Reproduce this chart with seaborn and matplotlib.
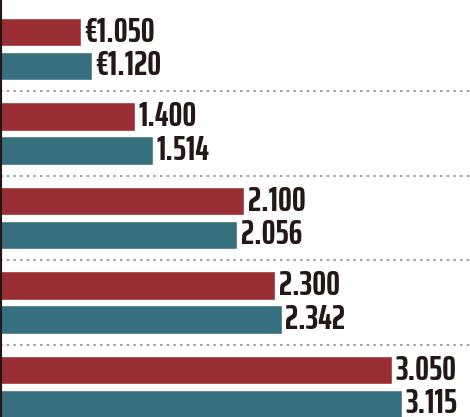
import pandas as pd
import seaborn as sns
import matplotlib.pyplot as plt

groups = ["G1", "G2", "G3", "G4", "G5"]
series = ["Serie A", "Serie B"]
values_a = [1050, 1400, 2100, 2300, 3050]
values_b = [1120, 1514, 2056, 2342, 3115]
prefix = ["€", "", "", "", ""]

red = "#992e35"
teal = "#36707e"

rows = []
for g, a, b in zip(groups, values_a, values_b):
    rows.append({"group": g, "serie": series[0], "value": a})
    rows.append({"group": g, "serie": series[1], "value": b})
df = pd.DataFrame(rows)

sns.set_style("white")
plt.rcParams["font.family"] = ["Saira ExtraCondensed", "DejaVu Sans"]

fig = plt.figure(figsize=(4.7, 4.17), dpi=100)
ax = fig.add_axes([0, 0, 1, 1])

sns.barplot(data=df, y="group", x="value", hue="serie", orient="h",
            palette=[red, teal], saturation=1, width=0.8, gap=0.16,
            legend=False, ax=ax)

for i in range(len(groups) - 1):
    ax.axhline(i + 0.5, color="#8f8f8f", lw=1.2, ls=(0, (1.5, 2.5)))


def fmt(v):
    return f"{v:,}".replace(",", ".")


for cont, vals in zip(ax.containers, [values_a, values_b]):
    for bar, v, p in zip(cont, vals, prefix):
        y = bar.get_y() + bar.get_height() / 2
        ax.annotate(p + fmt(v), (bar.get_width(), y), xytext=(2.5, 0),
                    textcoords="offset points", va="center", ha="left",
                    fontsize=25, fontweight="bold", color="#231815")

ax.set_xlim(529, 3551)
ax.set_ylim(4.355, -0.58)
ax.set_xticks([])
ax.set_yticks([])
ax.set_xlabel("")
ax.set_ylabel("")
for s in ["top", "right", "bottom"]:
    ax.spines[s].set_visible(False)
ax.spines["left"].set_color("#231815")
ax.spines["left"].set_linewidth(3)

fig.savefig("out.png", dpi=100)
